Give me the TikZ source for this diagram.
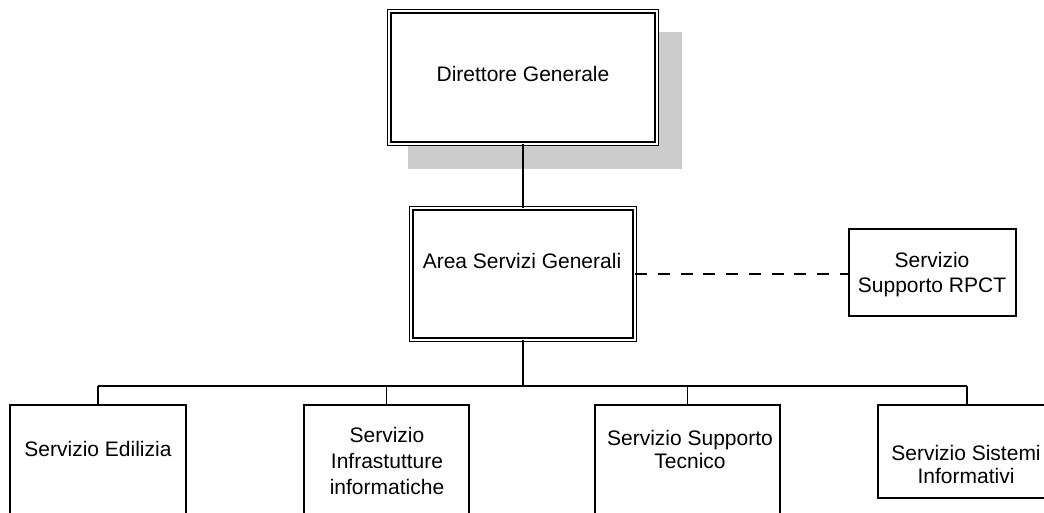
\documentclass[tikz,border=0pt]{standalone}
\usepackage{fontspec}
\setmainfont{Liberation Sans}

\begin{document}
\begin{tikzpicture}[x=1pt,y=-1pt,
  box/.style={draw,line width=1.7pt,inner sep=0pt},
  headbox/.style={draw,double,double distance=2.2pt,line width=1.3pt,inner sep=0pt},
  lbl/.style={align=center,inner sep=0pt,font=\fontsize{21}{25}\selectfont},
  link/.style={line width=1.8pt}]
  \useasboundingbox (0,0) rectangle (1044,513);
  \clip (0,0) rectangle (1044,513);
  % shadow behind the top box
  \fill[black!20] (408,32) rectangle (682,169);
  % boxes
  \node[headbox,fill=white,minimum width=267.4pt,minimum height=132.4pt] (dg) at (523,77.5) {};
  \node[headbox,minimum width=223.4pt,minimum height=131.4pt] (area) at (523,274) {};
  \node[box,minimum width=167.5pt,minimum height=87.5pt] (rpct) at (932.5,272.5) {};
  \node[box,minimum width=176.5pt,minimum height=155pt] (edil) at (98,482.25) {};
  \node[box,minimum width=165.5pt,minimum height=155pt] (infra) at (386.5,482.25) {};
  \node[box,minimum width=185.5pt,minimum height=155pt] (tecn) at (687.5,482.25) {};
  \node[box,minimum width=178.5pt,minimum height=93.5pt] (sist) at (967,451.5) {};
  % texts
  \node[lbl] (dgtext) at (523,74) {Direttore Generale};
  \node[lbl] (areatext) at (522,261) {Area Servizi Generali};
  \node[lbl] (rpcttext) at (932,274.5) {Servizio\\Supporto RPCT};
  \node[lbl] (ediltext) at (98,449) {Servizio Edilizia};
  \node[lbl] (infratext) at (387,461) {Servizio\\[1pt]Infrastutture\\[1pt]informatiche};
  \node[lbl] (tecntext) at (690,449) {Servizio Supporto\\[-2pt]Tecnico};
  \node[lbl] (sisttext) at (966,464.5) {Servizio Sistemi\\[-2pt]Informativi};
  % links
  \draw[link] (dg) -- (area);
  \draw[link,dash pattern=on 12pt off 10.7pt] (area.east) -- (area.east -| rpct.west);
  \coordinate (bus) at (523,386);
  \draw[link] (area) -- (bus);
  \draw[link] (bus -| edil) -- (bus -| sist);
  \foreach \b in {edil,infra,tecn,sist}{\draw[link] (bus -| \b) -- (\b);}
\end{tikzpicture}
\end{document}
